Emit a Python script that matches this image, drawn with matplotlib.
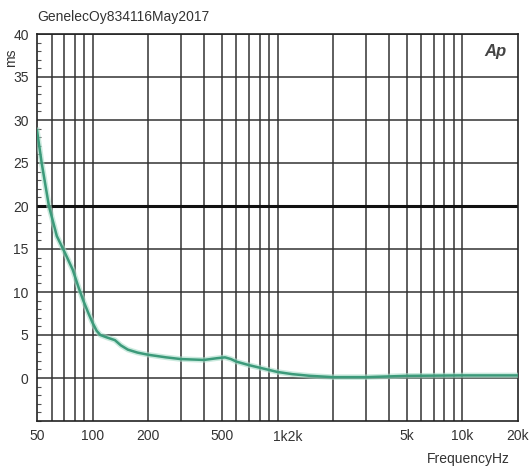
import numpy as np
import matplotlib
matplotlib.use("Agg")
import matplotlib.pyplot as plt
from matplotlib.ticker import FixedLocator, MultipleLocator, NullFormatter

plt.rcParams['font.family'] = ['Liberation Sans', 'DejaVu Sans']

# group delay readings (Hz, ms)
freq = [50, 53, 58, 64, 71, 78, 84, 89, 95, 100, 105, 110, 120, 132, 142,
        155, 175, 200, 250, 300, 400, 470, 520, 560, 600, 700, 800, 1000,
        1200, 1500, 2000, 3000, 5000, 10000, 20000]
delay = [28.8, 25.0, 20.0, 16.5, 14.5, 12.6, 10.5, 9.0, 7.5, 6.4, 5.5, 5.0,
         4.7, 4.4, 3.8, 3.3, 2.95, 2.7, 2.4, 2.2, 2.1, 2.3, 2.4, 2.2, 1.9,
         1.5, 1.2, 0.7, 0.45, 0.25, 0.1, 0.1, 0.25, 0.3, 0.3]

grid_freqs = [60, 70, 80, 90, 100, 200, 300, 400, 500, 600, 700, 800, 900,
              1000, 2000, 3000, 4000, 5000, 6000, 7000, 8000, 9000, 10000]
xtick_pos = [50, 100, 200, 500, 5000, 10000, 20000]
xtick_lab = ['50', '100', '200', '500', '5k', '10k', '20k']
yticks = [0, 5, 10, 15, 20, 25, 30, 35, 40]

fig = plt.figure(figsize=(5.31, 4.70), dpi=100)
ax = fig.add_axes([37 / 531, 49 / 470, 481 / 531, 387 / 470])
ax.set_xscale('log')
ax.set_xlim(50, 20000)
ax.set_ylim(-5, 40)

for f in grid_freqs:
    ax.axvline(f, color='#333333', lw=1.1, zorder=1)
for y in yticks:
    ax.axhline(y, color='#333333', lw=1.1, zorder=1)
ax.axhline(20, color='#111111', lw=2.2, zorder=2)

ax.plot(freq, delay, color='#a8dcc8', lw=4.0, alpha=0.6, zorder=3)
ax.plot(freq, delay, color='#3c9a7a', lw=1.8, zorder=4)

ax.xaxis.set_major_locator(FixedLocator(xtick_pos))
ax.set_xticklabels(xtick_lab)
ax.xaxis.set_minor_formatter(NullFormatter())
ax.xaxis.set_minor_locator(FixedLocator([]))
ax.text(1130, -6.0, '1k2k', ha='center', va='top', fontsize=10, color='#333333')
ax.set_yticks(yticks)
ax.yaxis.set_minor_locator(MultipleLocator(1))
ax.tick_params(axis='both', which='major', length=0, labelsize=10,
               colors='#333333', pad=6)
ax.tick_params(axis='y', which='minor', direction='in', length=3, width=0.8,
               color='#555555')
for s in ax.spines.values():
    s.set_color('#222222')
    s.set_linewidth(1.2)

fig.text(37 / 531, 1 - 17 / 470, 'GenelecOy834116May2017', ha='left', va='center',
         fontsize=10, color='#333333')
fig.text(11 / 531, 1 - 58 / 470, 'ms', rotation=90, ha='center', va='center',
         fontsize=10, color='#333333')
fig.text(468 / 531, 1 - 459 / 470, 'FrequencyHz', ha='center', va='center',
         fontsize=10, color='#333333')
ax.text(0.975, 0.955, 'Ap', transform=ax.transAxes, ha='right', va='center',
        fontsize=12, fontweight='bold', style='italic', color='#444444')

fig.savefig('out.png', dpi=100)
